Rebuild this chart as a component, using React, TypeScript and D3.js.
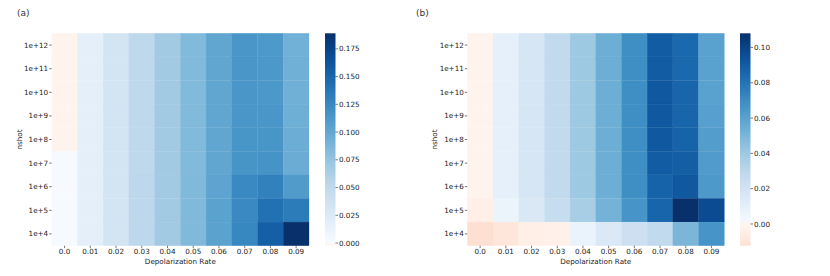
import React from "react";
import * as d3 from "d3";

const W = 830;
const H = 276;

const rateLabels = ["0.0", "0.01", "0.02", "0.03", "0.04", "0.05", "0.06", "0.07", "0.08", "0.09"];
const shotLabels = ["1e+12", "1e+11", "1e+10", "1e+9", "1e+8", "1e+7", "1e+6", "1e+5", "1e+4"];

// rows: 1e+12 (top) .. 1e+4 (bottom), cols: depolarization rate 0.0 .. 0.09
const gridA = [
  [-0.0024, 0.017, 0.034, 0.051, 0.068, 0.084, 0.101, 0.114, 0.112, 0.092],
  [-0.0023, 0.017, 0.034, 0.051, 0.068, 0.084, 0.101, 0.114, 0.113, 0.093],
  [-0.0023, 0.017, 0.034, 0.051, 0.068, 0.084, 0.101, 0.114, 0.113, 0.093],
  [-0.0022, 0.017, 0.034, 0.051, 0.068, 0.084, 0.101, 0.114, 0.114, 0.094],
  [-0.0021, 0.017, 0.034, 0.051, 0.068, 0.084, 0.101, 0.115, 0.115, 0.095],
  [0.0008, 0.017, 0.034, 0.051, 0.068, 0.084, 0.101, 0.116, 0.117, 0.096],
  [0.0009, 0.017, 0.034, 0.052, 0.068, 0.085, 0.103, 0.124, 0.13, 0.11],
  [0.0009, 0.017, 0.034, 0.052, 0.068, 0.085, 0.104, 0.124, 0.142, 0.134],
  [0.0009, 0.017, 0.034, 0.052, 0.068, 0.085, 0.104, 0.126, 0.155, 0.189],
];

const gridB = [
  [-0.001, 0.009, 0.018, 0.028, 0.04, 0.054, 0.069, 0.09, 0.085, 0.06],
  [-0.001, 0.009, 0.018, 0.028, 0.04, 0.054, 0.069, 0.09, 0.085, 0.06],
  [-0.001, 0.009, 0.018, 0.028, 0.04, 0.054, 0.069, 0.091, 0.086, 0.06],
  [-0.001, 0.009, 0.018, 0.028, 0.04, 0.054, 0.069, 0.091, 0.086, 0.061],
  [-0.001, 0.009, 0.018, 0.028, 0.04, 0.054, 0.069, 0.091, 0.087, 0.062],
  [-0.001, 0.009, 0.018, 0.028, 0.04, 0.054, 0.069, 0.09, 0.089, 0.063],
  [-0.001, 0.009, 0.018, 0.028, 0.04, 0.054, 0.069, 0.087, 0.091, 0.064],
  [-0.004, 0.006, 0.016, 0.026, 0.037, 0.052, 0.066, 0.086, 0.108, 0.097],
  [-0.0123, -0.009, -0.004, -0.003, 0.007, 0.015, 0.023, 0.028, 0.05, 0.066],
];

const ticksA = [0, 0.025, 0.05, 0.075, 0.1, 0.125, 0.15, 0.175];
const ticksB = [0, 0.02, 0.04, 0.06, 0.08, 0.1];

const FONT = "DejaVu Sans, sans-serif";

function makeColor(vmax: number) {
  return (v: number) =>
    v >= 0 ? d3.interpolateBlues(v / vmax) : d3.interpolateReds(-v / vmax);
}

interface PanelProps {
  id: string;
  label: string;
  grid: number[][];
  ticks: number[];
  fmt: string;
  x0: number;
  x1: number;
  cbX: number;
  labelX: number;
  ylabX: number;
}

function Panel(p: PanelProps) {
  const top = 33.3;
  const bottom = 245.7;
  const flat = p.grid.flat();
  const vmin = d3.min(flat) as number;
  const vmax = d3.max(flat) as number;
  const color = makeColor(vmax);

  const X = d3.scaleBand().domain(rateLabels).range([p.x0, p.x1]);
  const Y = d3.scaleBand().domain(shotLabels).range([top, bottom]);
  const C = d3.scaleLinear().domain([vmin, vmax]).range([bottom, top]);
  const cbW = 10.5;
  const format = d3.format(p.fmt);
  const stops = d3.range(0, 1.0001, 0.02);

  return (
    <g>
      <defs>
        <linearGradient id={"cb" + p.id} x1="0" y1="1" x2="0" y2="0">
          {stops.map((s) => (
            <stop key={s} offset={s} stopColor={color(vmin + s * (vmax - vmin))} />
          ))}
        </linearGradient>
      </defs>
      <text x={p.labelX} y={16} fontSize={9} fontFamily={FONT} fill="#333">
        {p.label}
      </text>
      {p.grid.map((row, i) =>
        row.map((v, j) => (
          <rect
            key={i + "-" + j}
            x={X(rateLabels[j])}
            y={Y(shotLabels[i])}
            width={X.bandwidth()}
            height={Y.bandwidth()}
            fill={color(v)}
            stroke={color(v)}
            strokeWidth={0.3}
          />
        ))
      )}
      {shotLabels.map((s) => {
        const y = (Y(s) as number) + Y.bandwidth() / 2;
        return (
          <g key={s}>
            <line x1={p.x0 - 2.5} x2={p.x0} y1={y} y2={y} stroke="#222" strokeWidth={0.6} />
            <text x={p.x0 - 3.5} y={y} dy="0.35em" textAnchor="end" fontSize={7.2} fontFamily={FONT} fill="#222">
              {s}
            </text>
          </g>
        );
      })}
      {rateLabels.map((r) => {
        const x = (X(r) as number) + X.bandwidth() / 2;
        return (
          <g key={r}>
            <line x1={x} x2={x} y1={bottom} y2={bottom + 2.5} stroke="#222" strokeWidth={0.6} />
            <text x={x} y={bottom + 6} dy="0.35em" textAnchor="middle" fontSize={7.2} fontFamily={FONT} fill="#222">
              {r}
            </text>
          </g>
        );
      })}
      <text x={(p.x0 + p.x1) / 2} y={261} dy="0.35em" textAnchor="middle" fontSize={7.2} fontFamily={FONT} fill="#222">
        Depolarization Rate
      </text>
      <text
        transform={`translate(${p.ylabX},${(top + bottom) / 2}) rotate(-90)`}
        dy="0.35em"
        textAnchor="middle"
        fontSize={7.2}
        fontFamily={FONT}
        fill="#222"
      >
        nshot
      </text>
      <rect x={p.cbX} y={top} width={cbW} height={bottom - top} fill={`url(#cb${p.id})`} />
      {p.ticks.map((t) => (
        <g key={t}>
          <line x1={p.cbX + cbW} x2={p.cbX + cbW + 2.5} y1={C(t)} y2={C(t)} stroke="#222" strokeWidth={0.6} />
          <text x={p.cbX + cbW + 3.5} y={C(t)} dy="0.35em" fontSize={7.2} fontFamily={FONT} fill="#222">
            {format(t)}
          </text>
        </g>
      ))}
    </g>
  );
}

export default function App() {
  return (
    <svg
      width={W}
      height={H}
      style={{ position: "absolute", left: 0, top: 0, background: "white" }}
    >
      <Panel id="a" label="(a)" grid={gridA} ticks={ticksA} fmt=".3f" x0={51.7} x1={309} cbX={325} labelX={17} ylabX={19.5} />
      <Panel id="b" label="(b)" grid={gridB} ticks={ticksB} fmt=".2f" x0={467.3} x1={724.3} cbX={740} labelX={416} ylabX={434} />
    </svg>
  );
}
